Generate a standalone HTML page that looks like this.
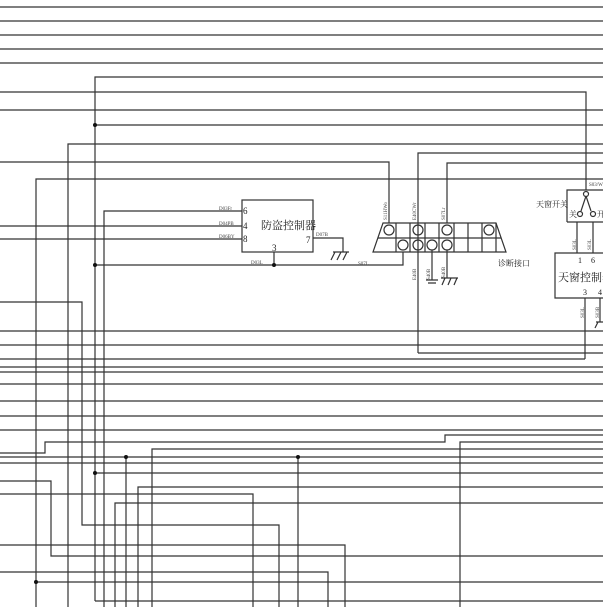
<!DOCTYPE html>
<html><head><meta charset="utf-8"><style>
html,body{margin:0;padding:0;background:#fff;width:603px;height:607px;overflow:hidden}
svg{display:block}
text{font-family:"Liberation Serif","Noto Serif CJK SC",serif;fill:#222}
.s{font-size:5px;fill:#444}
</style></head><body>
<svg width="603" height="607" viewBox="0 0 603 607" xmlns="http://www.w3.org/2000/svg">
<g fill="none" stroke="#333" stroke-width="1.2">
<!-- top full lines -->
<path d="M0 7H603M0 21H603M0 35H603M0 49H603M0 63H603"/>
<path d="M95 601V77H603"/>
<path d="M0 92H586V190"/>
<path d="M0 110H603"/>
<path d="M95 125H603"/>
<path d="M68 607V144H603"/>
<path d="M0 162H389V223"/>
<path d="M418 353V153H603"/>
<path d="M418 353H603"/>
<path d="M447 223V163H603"/>
<path d="M36 607V179H603"/>
<!-- anti-theft -->
<path d="M104 607V211H242"/>
<path d="M0 226H242M0 239H242"/>
<rect x="242" y="200" width="71" height="52"/>
<path d="M313 238H343V252"/>
<path d="M335 252l-4 8M341 252l-4 8M347 252l-4 8M333 252H349"/>
<path d="M274 252V265M95 265H403V252"/>
<!-- connector -->
<path d="M383 223H496L506 252H373Z"/>
<path d="M378 238H501"/>
<path d="M396 223V252M410 223V252M425 223V252M439 223V252M454 223V252M468 223V252M482 223V252M496 223V252"/>
<circle cx="389" cy="230" r="5"/><circle cx="418" cy="230" r="5"/><circle cx="447" cy="230" r="5"/><circle cx="489" cy="230" r="5"/>
<circle cx="403" cy="245" r="5"/><circle cx="418" cy="245" r="5"/><circle cx="432" cy="245" r="5"/><circle cx="447" cy="245" r="5"/>
<path d="M432 250V280M426 280H438M428 283H436"/>
<path d="M447 250V278M441 278H458M445 278l-3 7M451 278l-3 7M457 278l-3 7"/>
<!-- sunroof -->
<path d="M567 222V190H603"/><path d="M567 222H603"/>
<circle cx="586" cy="194" r="2.5"/><path d="M586 196L581 211M586 196L591 211"/>
<circle cx="580" cy="214" r="2.5"/><circle cx="593" cy="214" r="2.5"/>
<path d="M577 222V253M593 222V253"/>
<path d="M603 253H555V298H603"/>
<path d="M585 359V298M600 298V322M596 322H603M598 322l-3 6"/>
<path d="M0 359H585"/>
<!-- middle horizontals -->
<path d="M0 302H82V525H279V607"/>
<path d="M0 331H603M0 345H603M0 367H603M0 372H603M0 384H603M0 401H603M0 416H603M0 430H603"/>
<path d="M0 453H45V442H445V435H603"/>
<path d="M460 607V442H603"/>
<path d="M152 607V449H603"/>
<path d="M0 457H603M0 463H603"/>
<path d="M126 607V457M298 607V457"/>
<path d="M95 473H603"/>
<path d="M0 481H51V556H603"/>
<path d="M138 607V487H603"/>
<path d="M0 494H253V607"/>
<path d="M115 607V503H603"/>
<path d="M0 545H345V607"/>
<path d="M0 572H328V607"/>
<path d="M36 582H603"/>
<path d="M95 601H603"/>
</g>
<g fill="#111">
<circle cx="95" cy="125" r="2"/><circle cx="95" cy="265" r="2"/><circle cx="274" cy="265" r="2"/>
<circle cx="126" cy="457" r="2"/><circle cx="298" cy="457" r="2"/><circle cx="95" cy="473" r="2"/><circle cx="36" cy="582" r="2"/>
</g>
<text x="261" y="229" font-size="11">防盗控制器</text>
<text x="243" y="214" font-size="9">6</text><text x="243" y="229" font-size="9">4</text><text x="243" y="242" font-size="9">8</text>
<text x="306" y="243" font-size="9">7</text><text x="272" y="251" font-size="9">3</text>
<text x="219" y="210" class="s">D03Fr</text><text x="219" y="225" class="s">D04PB</text><text x="219" y="238" class="s">D06BY</text>
<text x="316" y="236" class="s">D07B</text><text x="251" y="264" class="s">D03L</text>
<text x="358" y="265" class="s">S07L</text>
<text x="498" y="266" font-size="8">诊断接口</text>
<text x="536" y="207" font-size="8">天窗开关</text>
<text x="569" y="217" font-size="8">关</text><text x="597" y="217" font-size="8">开</text>
<text x="589" y="186" class="s">S03/W</text>
<text x="578" y="263" font-size="8">1</text><text x="591" y="263" font-size="8">6</text>
<text x="583" y="295" font-size="8">3</text><text x="598" y="295" font-size="8">4</text>
<text x="558" y="281" font-size="11">天窗控制器</text>
<g class="s">
<text transform="translate(387,220) rotate(-90)" class="s">S11HWo</text>
<text transform="translate(416,220) rotate(-90)" class="s">E40CWr</text>
<text transform="translate(445,220) rotate(-90)" class="s">S07Lr</text>
<text transform="translate(416,280) rotate(-90)" class="s">E40B</text>
<text transform="translate(430,280) rotate(-90)" class="s">S40B</text>
<text transform="translate(445,278) rotate(-90)" class="s">S40B</text>
<text transform="translate(576,250) rotate(-90)" class="s">S03L</text>
<text transform="translate(591,250) rotate(-90)" class="s">S03L</text>
<text transform="translate(584,318) rotate(-90)" class="s">S03L</text>
<text transform="translate(599,318) rotate(-90)" class="s">S03B</text>
</g>
</svg>
</body></html>
